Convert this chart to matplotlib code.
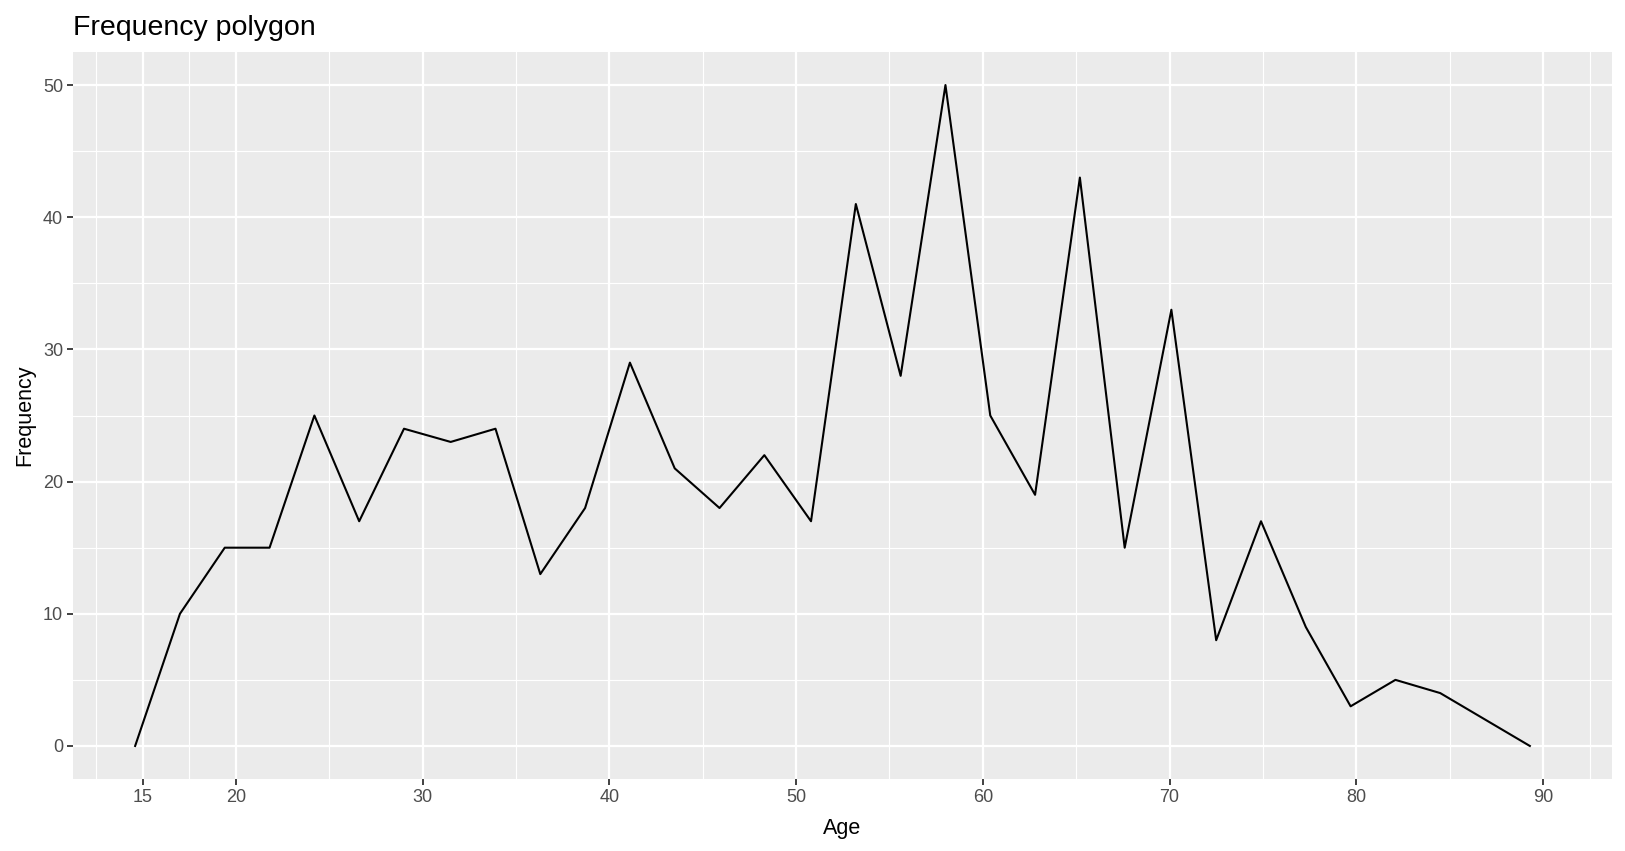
import numpy as np
import matplotlib
matplotlib.use('Agg')
import matplotlib.pyplot as plt

plt.rcParams['font.family'] = ['Liberation Sans', 'DejaVu Sans']

# bin midpoints (frequency polygon, 30 bins + empty ends)
edad = [14.6, 17.0, 19.4, 21.8, 24.2, 26.6, 29.0, 31.5, 33.9, 36.3,
        38.7, 41.1, 43.5, 45.9, 48.3, 50.8, 53.2, 55.6, 58.0, 60.4,
        62.8, 65.2, 67.6, 70.1, 72.5, 74.9, 77.3, 79.7, 82.1, 84.5,
        86.9, 89.3]
frecuencia = [0, 10, 15, 15, 25, 17, 24, 23, 24, 13,
              18, 29, 21, 18, 22, 17, 41, 28, 50, 25,
              19, 43, 15, 33, 8, 17, 9, 3, 5, 4,
              2, 0]

x_breaks = [15, 20, 30, 40, 50, 60, 70, 80, 90]
x_minor = [12.5, 17.5, 25, 35, 45, 55, 65, 75, 85, 92.5]
y_breaks = [0, 10, 20, 30, 40, 50]
y_minor = [5, 15, 25, 35, 45]

fig = plt.figure(figsize=(16.25, 8.51), dpi=100)
ax = fig.add_axes([0.0449, 0.0846, 0.992 - 0.0449, 0.9389 - 0.0846])
ax.set_facecolor('#EBEBEB')

for v in x_minor:
    ax.axvline(v, color='white', lw=0.8, zorder=1)
for v in y_minor:
    ax.axhline(v, color='white', lw=0.8, zorder=1)
for v in x_breaks:
    ax.axvline(v, color='white', lw=1.6, zorder=1)
for v in y_breaks:
    ax.axhline(v, color='white', lw=1.6, zorder=1)

ax.plot(edad, frecuencia, color='black', lw=1.5, zorder=3)

ax.set_xlim(11.27, 93.70)
ax.set_ylim(-2.5, 52.5)
ax.set_xticks(x_breaks)
ax.set_yticks(y_breaks)
ax.tick_params(axis='both', colors='#333333', labelcolor='#4D4D4D',
               labelsize=13, length=4, width=1.3, pad=3)
for s in ax.spines.values():
    s.set_visible(False)

ax.set_xlabel('Age', fontsize=15.5, labelpad=9)
ax.set_ylabel('Frequency', fontsize=15.5, labelpad=6)
ax.set_title('Frequency polygon', fontsize=20.5, loc='left', pad=12)

fig.savefig('out.png', dpi=100)
plt.close(fig)
